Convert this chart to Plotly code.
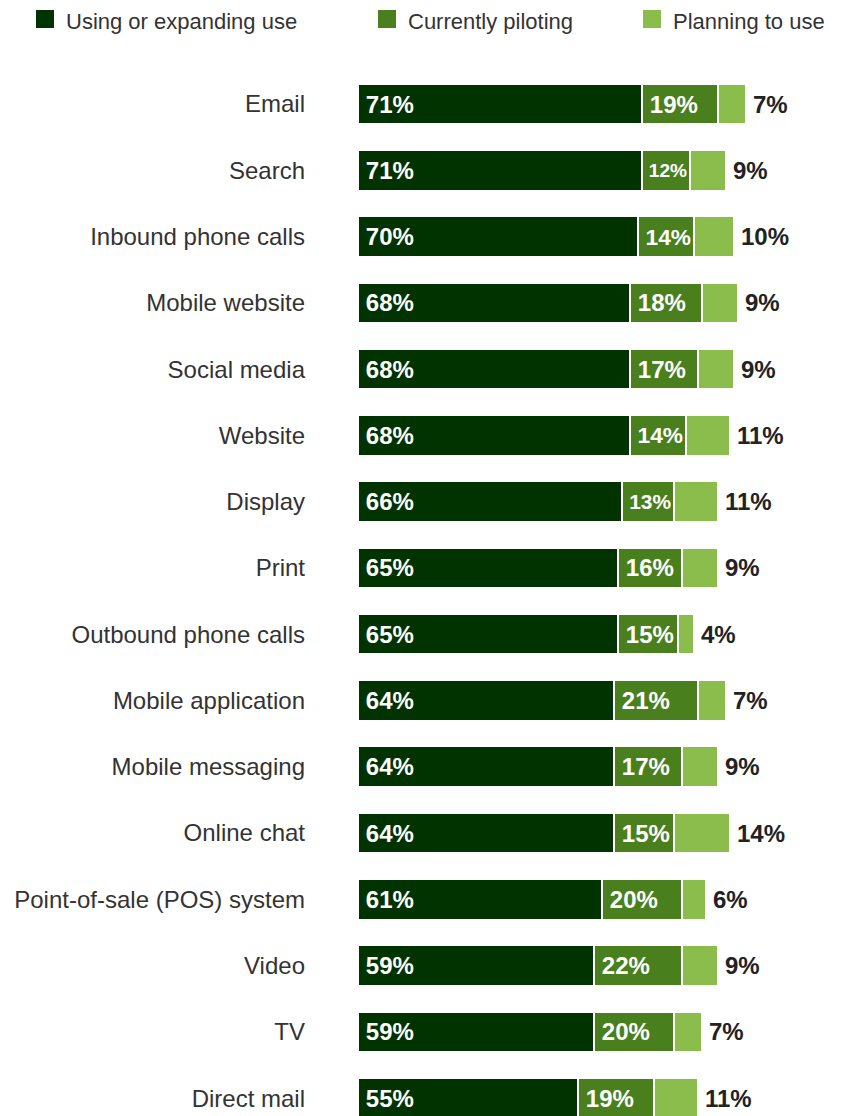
import plotly.graph_objects as go

categories = ["Email", "Search", "Inbound phone calls", "Mobile website", "Social media",
              "Website", "Display", "Print", "Outbound phone calls", "Mobile application",
              "Mobile messaging", "Online chat", "Point-of-sale (POS) system", "Video", "TV",
              "Direct mail"]
using = [71, 71, 70, 68, 68, 68, 66, 65, 65, 64, 64, 64, 61, 59, 59, 55]
piloting = [19, 12, 14, 18, 17, 14, 13, 16, 15, 21, 17, 15, 20, 22, 20, 19]
planning = [7, 9, 10, 9, 9, 11, 11, 9, 4, 7, 9, 14, 6, 9, 7, 11]

series_names = ["Using or expanding use", "Currently piloting", "Planning to use"]
colors = ["#003300", "#4a7f1e", "#8bbd4c"]

FONT = "Liberation Sans, Arial, Helvetica, sans-serif"

# page body offset (browser default margin)
OFF = 8

fig = go.Figure()
for name, vals, col, show_text in zip(series_names, [using, piloting, planning], colors,
                                      [True, True, False]):
    fig.add_trace(go.Bar(
        y=categories, x=vals, orientation="h", name=name,
        marker=dict(color=col, line=dict(color="white", width=1.5)),
        text=[f"\u2009{v}%" for v in vals] if show_text else None,
        textposition="inside" if show_text else "none",
        insidetextanchor="start",
        textfont=dict(family=FONT, size=24, color="white", weight="bold"),
        width=0.604,
        showlegend=False,
        hoverinfo="x+name",
    ))

annotations = []
for cat, u, p, pl in zip(categories, using, piloting, planning):
    annotations.append(dict(
        x=u + p + pl, y=cat, xref="x", yref="y", text=f"{pl}%", showarrow=False,
        xanchor="left", xshift=5, font=dict(family=FONT, size=24, color="#222222", weight="bold"),
    ))

# target pixel geometry (page coordinates)
plot_left, plot_w = 358, 480
plot_top, page_h = 60, 1116
plot_h = page_h - plot_top

def px_x(p):
    return (p - plot_left) / plot_w

def px_y(p):
    return (page_h - p) / plot_h

shapes = []
legend_x = [36, 378, 643]
for lx, name, col in zip(legend_x, series_names, colors):
    shapes.append(dict(type="rect", xref="paper", yref="paper",
                       x0=px_x(lx), x1=px_x(lx + 18), y0=px_y(28), y1=px_y(10),
                       fillcolor=col, line=dict(width=0)))
    annotations.append(dict(x=px_x(lx + 28), y=px_y(21), xref="paper", yref="paper",
                            text=name, showarrow=False, xanchor="left", yanchor="middle",
                            font=dict(family=FONT, size=22, color="#333333")))

fig.update_layout(
    barmode="stack",
    width=842 - OFF, height=page_h - OFF,
    margin=dict(l=plot_left - OFF, r=842 - plot_left - plot_w, t=plot_top - OFF, b=0,
                autoexpand=False),
    paper_bgcolor="white", plot_bgcolor="white",
    xaxis=dict(range=[0, 120], visible=False),
    yaxis=dict(range=[15.27, -0.664], showgrid=False, showline=False, ticks="",
               tickfont=dict(family=FONT, size=24, color="#333333"),
               ticklabelstandoff=52),
    annotations=annotations,
    shapes=shapes,
)

fig.write_html("out.html")
